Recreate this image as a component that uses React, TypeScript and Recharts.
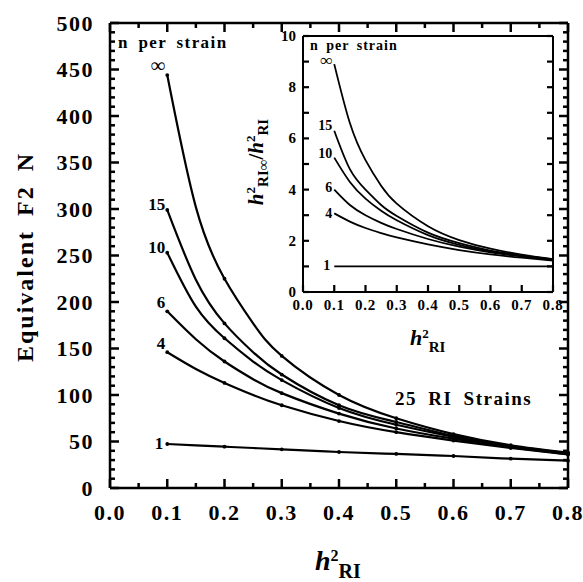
import React from 'react';
import { LineChart, Line, XAxis, YAxis, ReferenceLine } from 'recharts';

// ---------- data ----------
const hValues = [0.1, 0.15, 0.2, 0.25, 0.3, 0.4, 0.5, 0.6, 0.7, 0.8];
const seriesLabels = ['∞', '15', '10', '6', '4', '1'];

// main chart: Equivalent F2 N
const mainInf = [444, 302, 225, 177, 142, 100, 75, 58, 46, 38];
const main15 = [299, 224, 177, 146, 122, 89, 71, 56, 45, 37.5];
const main10 = [253, 195, 161, 136, 116, 86, 68, 55, 44.5, 37];
const main6 = [190, 160, 136, 117, 102, 80, 64, 53, 44, 36.5];
const main4 = [146, 128, 113, 100, 89, 72, 60, 51, 43, 36];
const main1 = [47.3, 45.8, 44.4, 43.0, 41.6, 38.7, 36.6, 34.4, 31.5, 29.4];

// inset: h2RI∞ / h2RI
const insetInf = [8.9, 6.6, 5.15, 4.15, 3.45, 2.57, 2.03, 1.69, 1.46, 1.28];
const inset15 = [6.3, 4.8, 4.0, 3.4, 2.97, 2.32, 1.91, 1.62, 1.43, 1.27];
const inset10 = [5.25, 4.3, 3.65, 3.17, 2.8, 2.22, 1.84, 1.58, 1.41, 1.26];
const inset6 = [4.0, 3.4, 3.0, 2.7, 2.46, 2.07, 1.77, 1.55, 1.39, 1.25];
const inset4 = [3.07, 2.75, 2.5, 2.3, 2.13, 1.86, 1.64, 1.47, 1.34, 1.23];
const inset1 = [1, 1, 1, 1, 1, 1, 1, 1, 1, 1];

// ticks
const mainXTicks = Array.from({ length: 17 }, (_, i) => +(i * 0.05).toFixed(2));
const mainYTicks = Array.from({ length: 51 }, (_, i) => i * 10);
const insetXTicks = Array.from({ length: 9 }, (_, i) => +(i * 0.1).toFixed(1));
const insetYTicks = Array.from({ length: 11 }, (_, i) => i);

const keys = ['inf', 'n15', 'n10', 'n6', 'n4', 'n1'];
const mainSeries = [mainInf, main15, main10, main6, main4, main1];
const insetSeries = [insetInf, inset15, inset10, inset6, inset4, inset1];

const mainRows = hValues.map((h, i) => {
  const r: any = { h };
  keys.forEach((k, j) => (r[k] = mainSeries[j][i]));
  return r;
});
const insetRows = hValues.map((h, i) => {
  const r: any = { h };
  keys.forEach((k, j) => (r[k] = insetSeries[j][i]));
  return r;
});

// ---------- styling ----------
const FONT = '"Liberation Serif", "Times New Roman", serif';
const isMult = (v: number, step: number) => Math.abs(v / step - Math.round(v / step)) < 1e-6;
const X_MAX = 0.8;
const MAIN_PLOT_W = 458;
const INSET_PLOT_W = 250;
const pxToX = (px: number, plotW: number) => (X_MAX * px) / plotW;

const mainLabelOffsets = [[-2, -3], [-2, 0], [-2, 0], [-2, -3], [-2, -3], [-4, 5]];
const insetLabelOffsets = [[-2, 2], [-2, -1], [-2, 0], [-2, 2], [-2, 5], [-4, 4]];

const MainLeftTick = (p: any) => {
  const x = Number(p.x), y = Number(p.y);
  const v = p.payload.value;
  if (!isMult(v, 50)) return <g />;
  return (
    <text x={x - 16} y={y} dy={7.5} textAnchor="end" fontFamily={FONT} fontWeight="bold" fontSize={22} letterSpacing={1.5} fill="#000">
      {v}
    </text>
  );
};
const EmptyTick = () => <g />;
const MainBottomTick = (p: any) => {
  const x = Number(p.x), y = Number(p.y);
  const v = p.payload.value;
  const major = isMult(v, 0.1);
  return (
    <g>
      <line x1={x} y1={y} x2={x} y2={y - (major ? 9 : 5)} stroke="#000" strokeWidth={2.5} />
      {major && (
        <text x={x} y={y} dy={32} textAnchor="middle" fontFamily={FONT} fontWeight="bold" fontSize={22} letterSpacing={1.5} fill="#000">
          {v.toFixed(1)}
        </text>
      )}
    </g>
  );
};
const MainTopTick = (p: any) => {
  const x = Number(p.x), y = Number(p.y);
  const major = isMult(p.payload.value, 0.1);
  return <line x1={x} y1={y} x2={x} y2={y + (major ? 9 : 5)} stroke="#000" strokeWidth={2.5} />;
};

const InsetLeftTick = (p: any) => {
  const x = Number(p.x), y = Number(p.y);
  const v = p.payload.value;
  if (!isMult(v, 2)) return <g />;
  return (
    <text x={x - 7} y={y} dy={5} textAnchor="end" fontFamily={FONT} fontWeight="bold" fontSize={15} fill="#000">
      {v}
    </text>
  );
};
const InsetBottomTick = (p: any) => {
  const x = Number(p.x), y = Number(p.y);
  const v = p.payload.value;
  return (
    <g>
      <line x1={x} y1={y} x2={x} y2={y - 7} stroke="#000" strokeWidth={2.2} />
      <text x={x} y={y} dy={18} textAnchor="middle" fontFamily={FONT} fontWeight="bold" fontSize={15} letterSpacing={0.8} fill="#000">
        {v.toFixed(1)}
      </text>
    </g>
  );
};

const makeCurveLabel = (text: string, off: number[], size: number) => (p: any) => {
  const idx = p.index;
  if (idx !== 0) return null;
  const x = p.x ?? p.viewBox?.x;
  const y = p.y ?? p.viewBox?.y;
  if (x == null || y == null) return null;
  return (
    <text x={x + off[0]} y={y + off[1]} textAnchor="end" fontFamily={FONT} fontWeight="bold" fontSize={text === '∞' ? size + 3 : size} fill="#000">
      {text}
    </text>
  );
};

const MainDot = (p: any) => {
  const { cx, cy, payload, index } = p;
  if (!payload || !isMult(payload.h, 0.1) || cx == null || cy == null) return <g key={`d${index}`} />;
  return <circle key={`d${index}`} cx={cx} cy={cy} r={1.9} fill="#000" stroke="none" />;
};

const MainTexts = () => (
  <g fontFamily={FONT} fontWeight="bold" fill="#000">
    <text x={315} y={570} fontSize={28} fill="#000">
      <tspan fontStyle="italic">h</tspan>
      <tspan fontSize={16} dy={-9}>2</tspan>
      <tspan fontSize={20} dy={17}>RI</tspan>
    </text>
    <text x={118} y={48} fontSize={17} letterSpacing={1.4} wordSpacing={4} fill="#000">n per strain</text>
    <text x={395} y={405} fontSize={19} letterSpacing={1.5} wordSpacing={5} fill="#000">25 RI Strains</text>
  </g>
);
const MainYTitle = () => (
  <text transform="translate(33,257) rotate(-90)" textAnchor="middle" fontFamily={FONT} fontWeight="bold" fontSize={24} letterSpacing={2} wordSpacing={6} fill="#000">
    Equivalent F2 N
  </text>
);

const InsetTexts = () => (
  <g fontFamily={FONT} fontWeight="bold" fill="#000">
    <text x={170} y={319} fontSize={22} fill="#000">
      <tspan fontStyle="italic">h</tspan>
      <tspan fontSize={13} dy={-7}>2</tspan>
      <tspan fontSize={15} dy={14}>RI</tspan>
    </text>
    <text x={70} y={24} fontSize={14} letterSpacing={1} wordSpacing={3} fill="#000">n per strain</text>
  </g>
);
const InsetYTitle = () => (
  <text transform="translate(23,136) rotate(-90)" textAnchor="middle" fontFamily={FONT} fontWeight="bold" fontSize={21} fill="#000">
    <tspan fontStyle="italic">h</tspan>
    <tspan fontSize={13} dy={-8}>2</tspan>
    <tspan fontSize={15} dy={13}>RI∞</tspan>
    <tspan dy={-5}>/</tspan>
    <tspan fontStyle="italic">h</tspan>
    <tspan fontSize={13} dy={-8}>2</tspan>
    <tspan fontSize={15} dy={13}>RI</tspan>
  </text>
);

const axisLineMain = { stroke: '#000', strokeWidth: 2.5 };
const axisLineInset = { stroke: '#000', strokeWidth: 2 };

const mainYTickMarks = mainYTicks.flatMap((v) => {
  const d = pxToX(isMult(v, 50) ? 9 : 5, MAIN_PLOT_W);
  return [
    <ReferenceLine key={`ml${v}`} segment={[{ x: 0, y: v }, { x: d, y: v }]} stroke="#000" strokeWidth={2.5} ifOverflow="visible" />,
    <ReferenceLine key={`mr${v}`} segment={[{ x: X_MAX - d, y: v }, { x: X_MAX, y: v }]} stroke="#000" strokeWidth={2.5} ifOverflow="visible" />,
  ];
});
const insetYTickMarks = insetYTicks.flatMap((v) => {
  const d = pxToX(6, INSET_PLOT_W);
  return [
    <ReferenceLine key={`il${v}`} segment={[{ x: 0, y: v }, { x: d, y: v }]} stroke="#000" strokeWidth={2.2} ifOverflow="visible" />,
    <ReferenceLine key={`ir${v}`} segment={[{ x: X_MAX - d, y: v }, { x: X_MAX, y: v }]} stroke="#000" strokeWidth={2.2} ifOverflow="visible" />,
  ];
});

export default function App() {
  return (
    <div style={{ position: 'absolute', left: 0, top: 0, width: 583, height: 582, background: '#fff' }}>
      <LineChart width={583} height={582} data={mainRows} margin={{ top: 13, right: 5, bottom: 84, left: 100 }}>
        <XAxis dataKey="h" type="number" domain={[0, 0.8]} ticks={mainXTicks} interval={0} height={10} tickSize={0} tickMargin={0} tick={<MainBottomTick />} axisLine={axisLineMain} label={<MainTexts />} />
        <XAxis xAxisId="top" orientation="top" dataKey="h" type="number" domain={[0, 0.8]} ticks={mainXTicks} interval={0} height={10} tickSize={0} tickMargin={0} tick={<MainTopTick />} axisLine={axisLineMain} />
        <YAxis type="number" domain={[0, 500]} ticks={mainYTicks} interval={0} width={10} tickSize={0} tickMargin={0} tick={<MainLeftTick />} axisLine={axisLineMain} label={<MainYTitle />} />
        <YAxis yAxisId="right" orientation="right" type="number" domain={[0, 500]} ticks={mainYTicks} interval={0} width={10} tickSize={0} tickMargin={0} tick={<EmptyTick />} axisLine={axisLineMain} />
        {mainYTickMarks}
        {keys.map((k, j) => (
          <Line
            key={k}
            dataKey={k}
            type="natural"
            stroke="#000"
            strokeWidth={2.2}
            dot={MainDot}
            activeDot={false}
            isAnimationActive={false}
            label={makeCurveLabel(seriesLabels[j], mainLabelOffsets[j], 17)}
          />
        ))}
      </LineChart>
      <div style={{ position: 'absolute', left: 240, top: 26, width: 325, height: 335 }}>
        <LineChart width={325} height={335} data={insetRows} margin={{ top: 0, right: 2, bottom: 59, left: 53 }}>
          <XAxis dataKey="h" type="number" domain={[0, 0.8]} ticks={insetXTicks} interval={0} height={10} tickSize={0} tickMargin={0} tick={<InsetBottomTick />} axisLine={axisLineInset} label={<InsetTexts />} />
          <XAxis xAxisId="top" orientation="top" dataKey="h" type="number" domain={[0, 0.8]} ticks={insetXTicks} height={10} tickSize={0} tick={false} tickLine={false} axisLine={axisLineInset} />
          <YAxis type="number" domain={[0, 10]} ticks={insetYTicks} interval={0} width={10} tickSize={0} tickMargin={0} tick={<InsetLeftTick />} axisLine={axisLineInset} label={<InsetYTitle />} />
          <YAxis yAxisId="right" orientation="right" type="number" domain={[0, 10]} ticks={insetYTicks} interval={0} width={10} tickSize={0} tickMargin={0} tick={<EmptyTick />} axisLine={axisLineInset} />
          {insetYTickMarks}
          {keys.map((k, j) => (
            <Line
              key={k}
              dataKey={k}
              type="natural"
              stroke="#000"
              strokeWidth={1.8}
              dot={false}
              activeDot={false}
              isAnimationActive={false}
              label={makeCurveLabel(seriesLabels[j], insetLabelOffsets[j], 14)}
            />
          ))}
        </LineChart>
      </div>
    </div>
  );
}
